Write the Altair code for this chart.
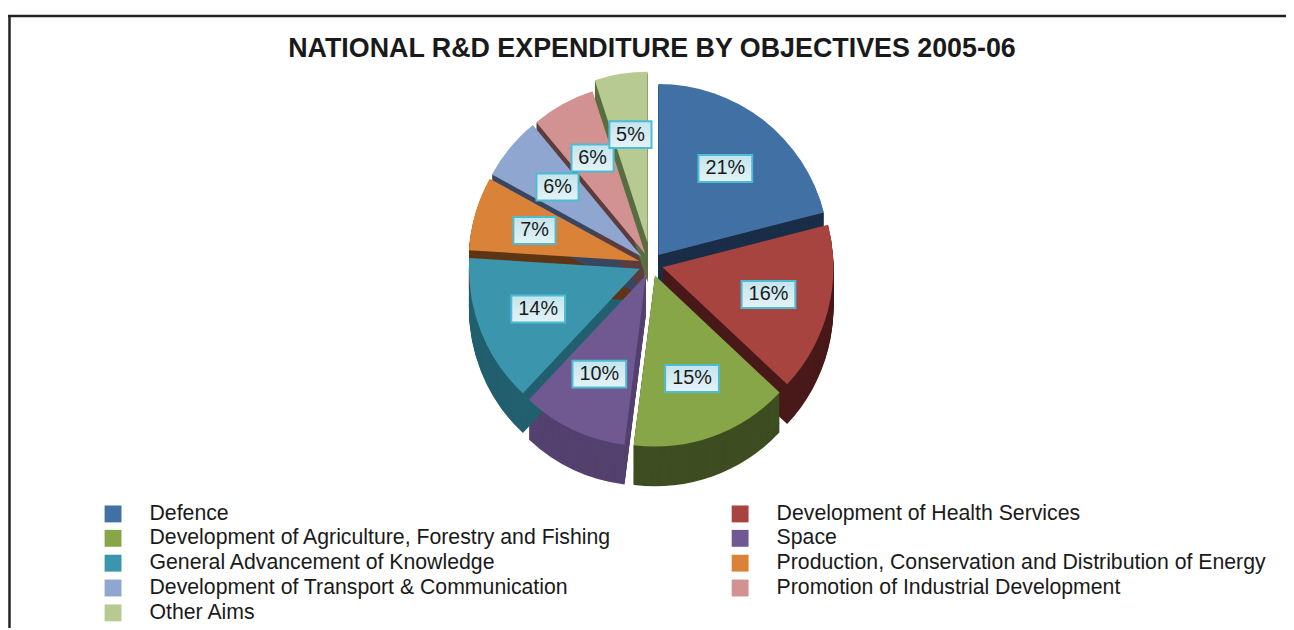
import altair as alt
import pandas as pd

# ---- data ----
categories = [
    "Defence",
    "Development of Health Services",
    "Development of Agriculture, Forestry and Fishing",
    "Space",
    "General Advancement of Knowledge",
    "Production, Conservation and Distribution of Energy",
    "Development of Transport & Communication",
    "Promotion of Industrial Development",
    "Other Aims",
]
shares = [21, 16, 15, 10, 14, 7, 6, 6, 5]

top_colors = ["#4170a5", "#a84440", "#87a648", "#705891", "#3b95ac",
              "#da8238", "#8fa6d0", "#d29292", "#b7ca91"]
side_colors = ["#1b2e48", "#4a1a1a", "#3e4e22", "#54416f", "#23606f",
               "#5e3515", "#3a4760", "#5c3c3d", "#5a6e40"]

title_text = "NATIONAL R&D EXPENDITURE BY OBJECTIVES 2005-06"

# legend is filled column by column; arrange so it reads row by row
legend_idx = [0, 2, 4, 6, 8, 1, 3, 5, 7]
legend_domain = [categories[i] for i in legend_idx]
legend_range = [top_colors[i] for i in legend_idx]

# ---- layout constants ----
W, H = 1286, 622
CX, CY = 647, 256
R = 172
EXPLODE = 12
DEPTH = 40
FONT = "Liberation Sans"

df = pd.DataFrame({"cat": categories, "share": shares, "idx": list(range(len(categories)))})
one = pd.DataFrame({"t": [title_text]})

base = (
    alt.Chart(df)
    .transform_window(cum="sum(share)", sort=[alt.SortField("idx")], frame=[None, 0])
    .transform_joinaggregate(total="sum(share)")
    .transform_calculate(t0="(datum.cum - datum.share) / datum.total * 2 * PI")
    .transform_calculate(t1="datum.cum / datum.total * 2 * PI")
    .transform_calculate(mid="(datum.t0 + datum.t1) / 2")
    .transform_calculate(ex=f"datum.cat == 'Other Aims' ? {EXPLODE + 10} : {EXPLODE}")
    .transform_calculate(cx=f"{CX} + datum.ex * sin(datum.mid)")
    .transform_calculate(cy=f"{CY} - datum.ex * cos(datum.mid)")
)

side = (
    base.transform_calculate(depth=f"sequence({DEPTH}, 0, -1)")
    .transform_flatten(["depth"])
    .transform_calculate(cyd="datum.cy + datum.depth")
    .mark_arc(outerRadius=R)
    .encode(
        theta=alt.Theta("t0:Q", scale=None, stack=False),
        theta2="t1:Q",
        x=alt.X("cx:Q", scale=None),
        y=alt.Y("cyd:Q", scale=None),
        color=alt.Color("cat:N", scale=alt.Scale(domain=categories, range=side_colors), legend=None),
    )
)

top = base.mark_arc(outerRadius=R).encode(
    theta=alt.Theta("t0:Q", scale=None, stack=False),
    theta2="t1:Q",
    x=alt.X("cx:Q", scale=None),
    y=alt.Y("cy:Q", scale=None),
    color=alt.Color(
        "cat:N",
        scale=alt.Scale(domain=legend_domain, range=legend_range),
        legend=alt.Legend(
            orient="none", legendX=95, legendY=496, columns=2, title=None,
            symbolType="square", symbolSize=289, symbolStrokeWidth=0,
            labelFontSize=21.4, labelFont=FONT, labelColor="#1a1a1a",
            labelOffset=26, columnPadding=118, rowPadding=2,
            labelLimit=800, padding=0,
        ),
    ),
)

lab = (
    base.transform_calculate(lx=f"datum.cx + {0.64 * R} * sin(datum.mid)")
    .transform_calculate(ly=f"datum.cy - {0.64 * R} * cos(datum.mid)")
    .transform_calculate(label="datum.share + '%'")
    .transform_calculate(w="(length(datum.label) - 1) * 11.7 + 18.7 + 12")
    .transform_calculate(bx1="datum.lx - datum.w / 2", bx2="datum.lx + datum.w / 2")
    .transform_calculate(by1="datum.ly - 13.5", by2="datum.ly + 13.5")
)

boxes = lab.mark_rect(
    color=alt.LinearGradient(
        gradient="linear", x1=0, y1=0, x2=0, y2=1,
        stops=[alt.GradientStop(color="#c4e4ec", offset=0),
               alt.GradientStop(color="#e4f3f7", offset=1)],
    ),
    stroke="#4cbcd4", strokeWidth=2,
).encode(
    x=alt.X("bx1:Q", scale=None), x2="bx2:Q",
    y=alt.Y("by1:Q", scale=None), y2="by2:Q",
)

texts = lab.mark_text(font=FONT, fontSize=20, color="#1a1a1a", baseline="middle", align="center").encode(
    x=alt.X("lx:Q", scale=None), y=alt.Y("ly:Q", scale=None), text="label:N"
)

title = alt.Chart(one).mark_text(
    font=FONT, fontSize=27, fontWeight="bold", color="#1a1a1a",
    align="center", baseline="alphabetic",
).encode(x=alt.value(648), y=alt.value(47), text="t:N")

frame_top = alt.Chart(one).mark_rule(color="#222222", strokeWidth=2.5).encode(
    x=alt.value(0), x2=alt.value(W), y=alt.value(6)
)
frame_left = alt.Chart(one).mark_rule(color="#222222", strokeWidth=2.5).encode(
    x=alt.value(1.5), y=alt.value(5), y2=alt.value(H)
)

chart = (
    alt.layer(frame_top, frame_left, side, top, boxes, texts, title)
    .resolve_scale(color="independent")
    .properties(width=W, height=H, autosize=alt.AutoSizeParams(type="none"), padding=0)
    .configure_view(stroke=None)
)

chart.save("out.html", embed_options={"renderer": "svg", "actions": False})
